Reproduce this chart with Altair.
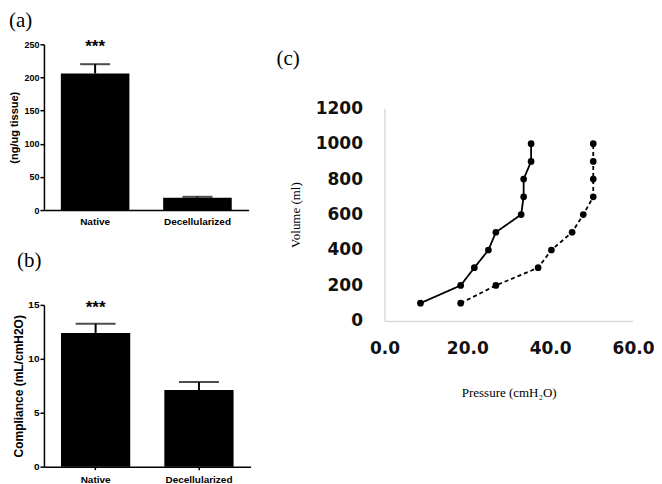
import altair as alt
import pandas as pd

# ---------------- data ----------------
categories = ["Native", "Decellularized"]
dna_mean = [206, 18.5]
dna_err = [14, 1.5]
compliance_mean = [12.4, 7.1]
compliance_err = [0.85, 0.75]

volume = [100, 200, 300, 400, 500, 600, 700, 800, 900, 1000]
pressure_solid = [8.7, 18.4, 21.7, 25.1, 26.9, 33.0, 33.6, 33.6, 35.4, 35.4]
pressure_dashed = [18.4, 26.9, 37.1, 40.3, 45.3, 48.0, 50.4, 50.4, 50.4, 50.4]

SANS = "Liberation Sans"
SERIF = "Liberation Serif"

df_a = pd.DataFrame({"cat": categories, "mean": dna_mean,
                     "top": [m + e for m, e in zip(dna_mean, dna_err)]})
df_b = pd.DataFrame({"cat": categories, "mean": compliance_mean,
                     "top": [m + e for m, e in zip(compliance_mean, compliance_err)]})


def bar_panel(df, ymax, yticks, ytitle, label, title_dx, title_offset, w, h,
              cap, star_y, xticks, ylabel_size, ytitle_size, ytitle_pad):
    xenc = alt.X("cat:N", sort=categories,
                 scale=alt.Scale(paddingInner=0.33, paddingOuter=0.165),
                 axis=alt.Axis(title=None, labelAngle=0, ticks=xticks, tickSize=3,
                               labelPadding=5 if xticks else 6,
                               labelFont=SANS, labelFontWeight="bold",
                               labelFontSize=10, labelColor="black",
                               domainColor="black", domainWidth=1.5,
                               tickColor="black", tickWidth=1.5))
    yscale = alt.Scale(domain=[0, ymax])
    yaxis = alt.Axis(values=yticks, grid=False, tickSize=4, labelPadding=1,
                     labelFlush=False, labelOverlap=False,
                     labelFont=SANS, labelFontWeight="bold", labelFontSize=ylabel_size,
                     labelColor="black", domainColor="black", domainWidth=1.5,
                     tickColor="black", tickWidth=1.5,
                     title=ytitle, titleFont=SANS, titleFontWeight="bold",
                     titleFontSize=ytitle_size, titleColor="black",
                     titlePadding=ytitle_pad)
    base = alt.Chart(df)
    bars = base.mark_bar(color="black").encode(
        x=xenc, y=alt.Y("mean:Q", scale=yscale, axis=yaxis))
    rule = base.mark_rule(color="black", strokeWidth=2).encode(
        x=xenc, y=alt.Y("mean:Q", scale=yscale, axis=yaxis), y2="top:Q")
    capm = base.mark_tick(color="black", size=cap, thickness=2).encode(
        x=xenc, y=alt.Y("top:Q", scale=yscale, axis=yaxis))
    star_df = pd.DataFrame({"cat": [categories[0]], "y": [star_y]})
    star = alt.Chart(star_df).mark_text(text="***", font=SANS, fontWeight="bold",
                                        fontSize=17, baseline="middle", dy=3).encode(
        x=xenc, y=alt.Y("y:Q", scale=yscale, axis=yaxis))
    return alt.layer(bars, rule, capm, star).properties(
        width=w, height=h,
        title=alt.TitleParams(label, anchor="start", frame="group", dx=title_dx,
                              offset=title_offset, font=SERIF, fontSize=21,
                              fontWeight="normal", color="black"))


panel_a = bar_panel(df_a, 250, [0, 50, 100, 150, 200, 250], "(ng/ug tissue)", "(a)",
                    -35, 7, 205, 166, 30, 250, False, 9, 11, 4)
panel_b = bar_panel(df_b, 15, [0, 5, 10, 15], "Compliance (mL/cmH2O)", "(b)",
                    -27, 28, 207, 162, 40, 15, True, 10, 12, 2)

# ---------------- panel c ----------------
df_c = pd.DataFrame({
    "Volume": volume + volume,
    "Pressure": pressure_solid + pressure_dashed,
    "series": ["solid"] * len(volume) + ["dashed"] * len(volume),
})

cx = alt.X("Pressure:Q", scale=alt.Scale(domain=[0, 60]),
           axis=alt.Axis(values=[0, 20, 40, 60], format=".1f", grid=False, ticks=False,
                         labelFlush=False, labelOverlap=False,
                         labelFont="DejaVu Sans", labelFontWeight="bold",
                         labelFontSize=17, labelColor="#111", labelPadding=20,
                         domainColor="#d9d9d9", domainWidth=1.5,
                         title="Pressure (cmH\u2082O)", titleFont=SERIF,
                         titleFontSize=13, titleFontWeight="normal",
                         titleColor="black", titlePadding=30))
cy = alt.Y("Volume:Q", scale=alt.Scale(domain=[0, 1200]),
           axis=alt.Axis(values=[0, 200, 400, 600, 800, 1000, 1200], format="d",
                         grid=False, ticks=False, labelFlush=False, labelOverlap=False,
                         labelFont="DejaVu Sans", labelFontWeight="bold",
                         labelFontSize=17, labelColor="#111", labelPadding=22,
                         domainColor="#d9d9d9", domainWidth=1.5,
                         title="Volume (ml)", titleFont=SERIF, titleFontSize=13,
                         titleFontWeight="normal", titleColor="black",
                         titlePadding=13))
cbase = alt.Chart(df_c)
lines = cbase.mark_line(color="black", strokeWidth=1.8).encode(
    x=cx, y=cy, detail="series:N", order="Volume:Q",
    strokeDash=alt.StrokeDash("series:N",
                              scale=alt.Scale(domain=["solid", "dashed"],
                                              range=[[1, 0], [4, 3]]),
                              legend=None))
pts = cbase.mark_circle(color="black", size=45, opacity=1).encode(x=cx, y=cy)
panel_c = alt.layer(lines, pts).properties(
    width=249, height=213,
    title=alt.TitleParams("(c)", anchor="start", frame="group", dx=-108,
                          offset=30, font=SERIF, fontSize=21,
                          fontWeight="normal", color="black"))

spacer = alt.Chart(pd.DataFrame({"v": [0]})).mark_point(opacity=0).encode(
    x=alt.X("v:Q", axis=None), y=alt.Y("v:Q", axis=None)).properties(width=10, height=1)

left = alt.vconcat(panel_a, panel_b, spacing=24)
right = alt.vconcat(spacer, panel_c, spacing=0)

chart = alt.hconcat(left, right, spacing=26).properties(
    padding={"top": 2, "left": 0, "right": 0, "bottom": 0}).configure_view(stroke=None)

chart.save("out.html", embed_options={"renderer": "svg", "actions": False})
